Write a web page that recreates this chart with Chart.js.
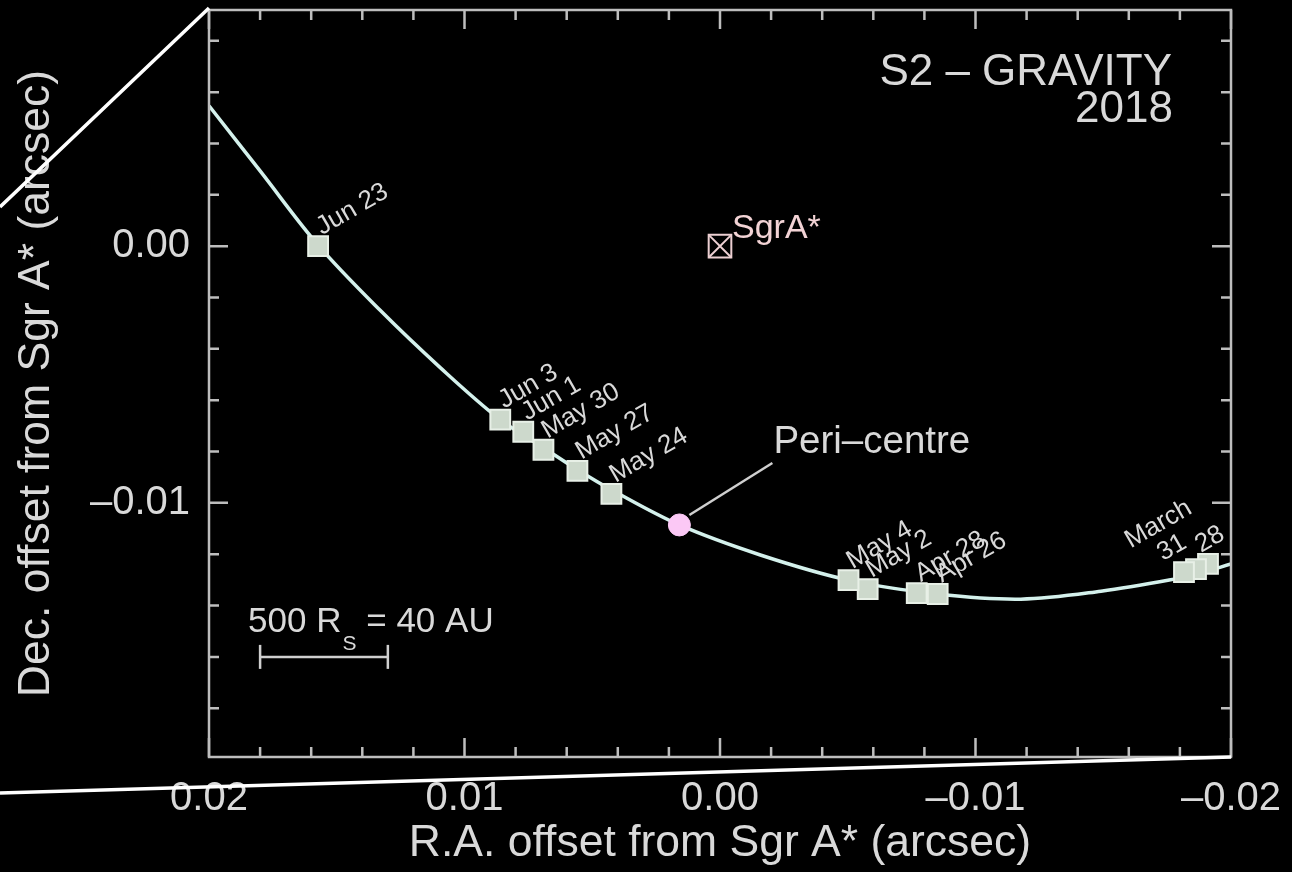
<!DOCTYPE html>
<html>
<head>
<meta charset="utf-8">
<script src="https://cdn.jsdelivr.net/npm/chart.js@4.4.1/dist/chart.umd.min.js"></script>
<style>
  html, body { margin: 0; padding: 0; background: #000; overflow: hidden; }
  canvas { display: block; }
</style>
</head>
<body>
<canvas id="orbit" width="1292" height="872"></canvas>
<script>
// S2 around Sgr A* in 2018 — offsets in arcsec (R.A., Dec.)

// Best-fit orbit track
const orbitRA  = [0.02000, 0.01800, 0.01573, 0.01330, 0.01095, 0.00860, 0.00691, 0.00558,
                  0.00425, 0.00159, -0.00158, -0.00503, -0.00852, -0.01177, -0.01491,
                  -0.01777, -0.01882, -0.02000];
const orbitDec = [0.00547, 0.00293, 0.00004, -0.00250, -0.00473, -0.00676, -0.00785, -0.00871,
                  -0.00949, -0.01086, -0.01203, -0.01301, -0.01355, -0.01375, -0.01344,
                  -0.01297, -0.01273, -0.01238];

// GRAVITY epochs
const epochLabels = ['28', '', 'March\n31', 'Apr 26', 'Apr 28', 'May 2', 'May 4',
                     'May 24', 'May 27', 'May 30', 'Jun 1', 'Jun 3', 'Jun 23'];
const epochRA  = [-0.01910, -0.01863, -0.01816, -0.00852, -0.00770, -0.00578, -0.00503,
                  0.00425, 0.00558, 0.00691, 0.00770, 0.00860, 0.01573];
const epochDec = [-0.01238, -0.01258, -0.01270, -0.01355, -0.01352, -0.01336, -0.01301,
                  -0.00965, -0.00875, -0.00793, -0.00723, -0.00676, 0.00000];

// Pericentre passage
const periRA  = [0.00159];
const periDec = [-0.01086];

// Sgr A* position
const sgrRA  = [0.0];
const sgrDec = [0.0];

// Scale bar: 500 Rs = 40 AU
const barRA  = [0.018, 0.013];
const barDec = [-0.016, -0.016];

// Axis tick labels
const majorTicks = [0.02, 0.01, 0.00, -0.01, -0.02];
const majorTickLabels = ['0.02', '0.01', '0.00', '\u20130.01', '\u20130.02'];

const FONT = '"Liberation Sans", Arial, Helvetica, sans-serif';
const TXT = '#d9d9d9';
const AXIS = '#bdbdbd';

const pts = (xs, ys) => xs.map((v, i) => ({ x: v, y: ys[i] }));
const tickLabel = v => {
  const k = majorTicks.findIndex(m => Math.abs(m - v) < 1e-7);
  return k >= 0 ? majorTickLabels[k] : '';
};
const isMajor = v => majorTicks.some(m => Math.abs(m - v) < 1e-7);

// nudges for crowded labels near the right edge
const labelNudge = { 'March\n31': [-25, 0], '28': [-11, 0] };

const decor = {
  id: 'decor',
  afterDatasetsDraw(chart) {
    const { ctx, chartArea: a, scales: { x, y } } = chart;
    ctx.save();

    // plot frame with inward ticks on all four sides
    ctx.strokeStyle = AXIS;
    ctx.lineWidth = 2.5;
    ctx.strokeRect(a.left, a.top, a.right - a.left, a.bottom - a.top);
    ctx.beginPath();
    x.ticks.forEach(t => {
      const px = x.getPixelForValue(t.value);
      const L = isMajor(t.value) ? 19 : 10;
      ctx.moveTo(px, a.bottom); ctx.lineTo(px, a.bottom - L);
      ctx.moveTo(px, a.top); ctx.lineTo(px, a.top + L);
    });
    y.ticks.forEach(t => {
      const py = y.getPixelForValue(t.value);
      const L = isMajor(t.value) ? 19 : 10;
      ctx.moveTo(a.left, py); ctx.lineTo(a.left + L, py);
      ctx.moveTo(a.right, py); ctx.lineTo(a.right - L, py);
    });
    ctx.stroke();

    // epoch labels
    ctx.fillStyle = TXT;
    ctx.font = `26px ${FONT}`;
    ctx.textBaseline = 'alphabetic';
    ctx.textAlign = 'left';
    chart.getDatasetMeta(0).data.forEach((p, i) => {
      const txt = epochLabels[i];
      if (!txt) return;
      const n = labelNudge[txt] || [0, 0];
      ctx.save();
      ctx.translate(p.x + 4 + n[0], p.y - 11 + n[1]);
      ctx.rotate(-Math.PI / 6);
      const lines = txt.split('\n');
      const wl = ctx.measureText(lines[lines.length - 1]).width;
      lines.forEach((ln, k) => {
        const w = ctx.measureText(ln).width;
        ctx.fillText(ln, (wl - w) / 2, -(lines.length - 1 - k) * 27);
      });
      ctx.restore();
    });

    // pericentre pointer and label
    const pp = chart.getDatasetMeta(1).data[0];
    ctx.strokeStyle = '#cfcfcf';
    ctx.lineWidth = 2.5;
    ctx.beginPath();
    ctx.moveTo(pp.x + 10, pp.y - 10);
    ctx.lineTo(pp.x + 93, pp.y - 62);
    ctx.stroke();
    ctx.font = `38.5px ${FONT}`;
    ctx.fillText('Peri\u2013centre', pp.x + 94, pp.y - 72);

    // Sgr A* label
    const sp = chart.getDatasetMeta(2).data[0];
    ctx.fillStyle = '#f2d3d5';
    ctx.font = `34px ${FONT}`;
    ctx.fillText('SgrA*', sp.x + 12, sp.y - 8);

    // scale bar caption
    const bp = chart.getDatasetMeta(4).data[0];
    ctx.fillStyle = TXT;
    const bx = bp.x - 12, by = bp.y - 25;
    ctx.font = `35px ${FONT}`;
    ctx.fillText('500 R', bx, by);
    const w1 = ctx.measureText('500 R').width;
    ctx.font = `21px ${FONT}`;
    ctx.fillText('S', bx + w1 + 1, by + 18);
    const w2 = ctx.measureText('S').width;
    ctx.font = `35px ${FONT}`;
    ctx.fillText(' = 40 AU', bx + w1 + w2 + 1, by);

    // title block
    ctx.textAlign = 'right';
    ctx.font = `44px ${FONT}`;
    ctx.fillText('S2 \u2013 GRAVITY', a.right - 59, a.top + 75);
    ctx.fillText('2018', a.right - 58, a.top + 112);
    ctx.restore();
  },
  afterDraw(chart) {
    // zoom-in guide lines
    const { ctx, chartArea: a } = chart;
    ctx.save();
    ctx.strokeStyle = '#ffffff';
    ctx.lineWidth = 3.5;
    ctx.beginPath();
    ctx.moveTo(a.left, a.top - 2);
    ctx.lineTo(0, 207);
    ctx.moveTo(a.right, a.bottom);
    ctx.lineTo(0, 793);
    ctx.stroke();
    ctx.restore();
  }
};

new Chart(document.getElementById('orbit'), {
  type: 'scatter',
  data: {
    datasets: [
      {
        label: 'epochs',
        data: pts(epochRA, epochDec),
        pointStyle: 'rect',
        pointRadius: 14,
        backgroundColor: '#cdd9cc',
        borderColor: '#e8f0e7',
        borderWidth: 2
      },
      {
        label: 'pericentre',
        data: pts(periRA, periDec),
        pointStyle: 'circle',
        pointRadius: 11,
        backgroundColor: '#fbc8f5',
        borderColor: '#fbc8f5',
        borderWidth: 1
      },
      {
        label: 'Sgr A*',
        data: pts(sgrRA, sgrDec),
        pointStyle: 'rect',
        pointRadius: 16,
        backgroundColor: 'rgba(0,0,0,0)',
        borderColor: '#eccfd2',
        borderWidth: 2
      },
      {
        label: 'Sgr A* cross',
        data: pts(sgrRA, sgrDec),
        pointStyle: 'crossRot',
        pointRadius: 16,
        borderColor: '#eccfd2',
        borderWidth: 2
      },
      {
        label: 'scale bar',
        data: pts(barRA, barDec),
        showLine: true,
        pointStyle: 'line',
        rotation: 90,
        pointRadius: 12,
        borderColor: '#cfcfcf',
        borderWidth: 2.5
      },
      {
        label: 'orbit',
        data: pts(orbitRA, orbitDec),
        showLine: true,
        pointRadius: 0,
        borderColor: '#d4f1ec',
        borderWidth: 3.5,
        tension: 0.35
      }
    ]
  },
  options: {
    responsive: false,
    animation: false,
    devicePixelRatio: 1,
    layout: { autoPadding: false, padding: { top: 10, right: 61, left: 0, bottom: 0 } },
    plugins: { legend: { display: false }, tooltip: { enabled: false } },
    scales: {
      x: {
        type: 'linear',
        min: -0.02, max: 0.02,
        reverse: true,
        grid: { display: false, drawTicks: false },
        border: { display: false },
        ticks: {
          stepSize: 0.002, autoSkip: false, maxRotation: 0, padding: 18,
          color: TXT, font: { family: FONT, size: 40 }, callback: tickLabel
        },
        title: {
          display: true, text: 'R.A. offset from Sgr A* (arcsec)', color: TXT,
          font: { family: FONT, size: 44.5 }, padding: { top: 0, bottom: 2 }
        },
        afterFit: s => { s.height = 115; s.paddingLeft = 0; s.paddingRight = 0; }
      },
      y: {
        type: 'linear',
        min: -0.0199, max: 0.0092,
        grid: { display: false, drawTicks: false },
        border: { display: false },
        ticks: {
          stepSize: 0.002, includeBounds: false, autoSkip: false, padding: 19,
          color: TXT, font: { family: FONT, size: 40 }, callback: tickLabel
        },
        title: {
          display: true, text: 'Dec. offset from Sgr A* (arcsec)', color: TXT,
          font: { family: FONT, size: 44.5 }, padding: { top: 10, bottom: 0 }
        },
        afterFit: s => { s.width = 209; s.paddingTop = 0; s.paddingBottom = 0; }
      }
    }
  },
  plugins: [decor]
});
</script>
</body>
</html>
